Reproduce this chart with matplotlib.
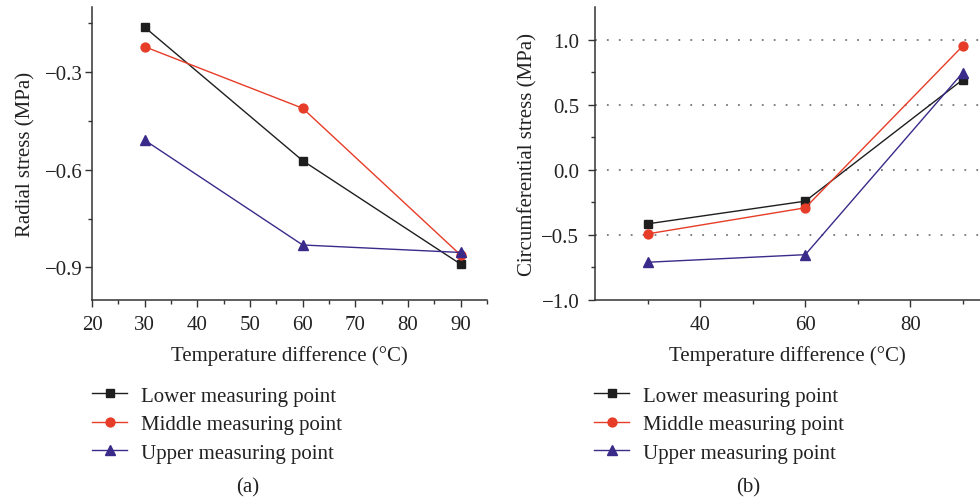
import matplotlib
matplotlib.use("Agg")
import matplotlib.pyplot as plt
from matplotlib.ticker import MultipleLocator, FixedLocator

plt.rcParams['font.family'] = ['Liberation Serif', 'DejaVu Serif']

temps = [30, 60, 90]
series_names = ["Lower measuring point", "Middle measuring point", "Upper measuring point"]

radial_lower = [-0.162, -0.572, -0.890]
radial_middle = [-0.222, -0.411, -0.862]
radial_upper = [-0.509, -0.831, -0.854]

circ_lower = [-0.415, -0.241, 0.692]
circ_middle = [-0.492, -0.292, 0.951]
circ_upper = [-0.710, -0.652, 0.746]

colors = ['#1e1e1e', '#e63c28', '#3a2a8a']
markers = ['s', 'o', '^']
msizes = [5.8, 6.4, 6.6]

fig = plt.figure(figsize=(9.8, 5.02), dpi=100)
axL = fig.add_axes([92/980, 1-301/502, (487-92)/980, (301-8)/502])
axR = fig.add_axes([595.3/980, 1-301/502, (980-595.3)/980, (301-8)/502])

FS = 15
TC = '#222222'
for ax in (axL, axR):
    for s in ('top', 'right'):
        ax.spines[s].set_visible(False)
    for s in ('left', 'bottom'):
        ax.spines[s].set_linewidth(1.1)
        ax.spines[s].set_color('#333333')
    ax.tick_params(which='major', direction='out', length=5, width=1.0, color='#333333',
                   labelsize=FS, labelcolor=TC)
    ax.tick_params(which='minor', direction='out', length=3, width=1.0, color='#333333')
    ax.tick_params(axis='x', which='major', pad=5.5)
    ax.set_facecolor('none')
axL.tick_params(axis='y', which='major', pad=1.5)
axR.tick_params(axis='y', which='major', pad=6.5)

# Left panel
for vals, c, m, ms, name in zip([radial_lower, radial_middle, radial_upper], colors, markers, msizes, series_names):
    axL.plot(temps, vals, color=c, marker=m, ms=ms, lw=1.0, label=name, clip_on=False)
axL.set_xlim(20, 95)
axL.set_ylim(-1.0, -0.1)
axL.xaxis.set_major_locator(MultipleLocator(10))
axL.xaxis.set_minor_locator(MultipleLocator(5))
axL.yaxis.set_major_locator(FixedLocator([-0.9, -0.6, -0.3]))
axL.yaxis.set_minor_locator(FixedLocator([-0.75, -0.45, -0.15]))
axL.set_yticklabels(['\u22120.9', '\u22120.6', '\u22120.3'])
axL.set_xlabel('Temperature difference (°C)', fontsize=FS, color=TC, labelpad=8)
axL.set_ylabel('Radial stress (MPa)', fontsize=FS, color=TC)
axL.yaxis.set_label_coords(-0.142, 0.5)

# Right panel
for y in [-0.5, 0.0, 0.5, 1.0]:
    axR.axhline(y, color='#777777', lw=1.3, ls=(0, (1.0, 5.6)), zorder=0)
for vals, c, m, ms, name in zip([circ_lower, circ_middle, circ_upper], colors, markers, msizes, series_names):
    axR.plot(temps, vals, color=c, marker=m, ms=ms, lw=1.0, label=name, clip_on=False)
axR.set_xlim(20, 93.28)
axR.set_ylim(-1.0, 1.25)
axR.xaxis.set_major_locator(FixedLocator([40, 60, 80]))
axR.xaxis.set_minor_locator(FixedLocator([30, 50, 70, 90]))
axR.yaxis.set_major_locator(FixedLocator([-1.0, -0.5, 0.0, 0.5, 1.0]))
axR.yaxis.set_minor_locator(FixedLocator([-0.75, -0.25, 0.25, 0.75]))
axR.set_yticklabels(['\u22121.0', '\u22120.5', '0.0', '0.5', '1.0'])
axR.set_xlabel('Temperature difference (°C)', fontsize=FS, color=TC, labelpad=8)
axR.set_ylabel('Circumferential stress (MPa)', fontsize=FS, color=TC)
axR.yaxis.set_label_coords(-0.149, 0.5)

# Legends below each panel
for ax, x0 in ((axL, 92/980), (axR, 594/980)):
    h, l = ax.get_legend_handles_labels()
    leg = fig.legend(h, l, loc='upper left', bbox_to_anchor=(x0, 1-387/502), frameon=False,
                     fontsize=FS, handlelength=1.7, handletextpad=0.66, labelspacing=0.43,
                     borderaxespad=0, borderpad=0)
    for t in leg.get_texts():
        t.set_color(TC)

fig.text(248/980, 1-488/502, '(a)', ha='center', va='center', fontsize=FS, color=TC)
fig.text(748/980, 1-488/502, '(b)', ha='center', va='center', fontsize=FS, color=TC)

fig.savefig('out.png', dpi=100)
